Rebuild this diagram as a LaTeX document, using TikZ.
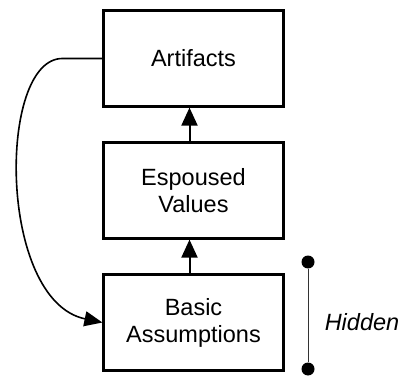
\documentclass[tikz,border=0pt]{standalone}
\usepackage{fontspec}
\setmainfont{Liberation Sans}
\usetikzlibrary{arrows.meta, positioning}

\begin{document}
\begin{tikzpicture}[x=1pt, y=1pt, node distance=132pt]
			\tikzstyle{layer}=[
			rectangle, draw=black, line width=2.2pt,
			minimum width=180pt, minimum height=96pt,
			font=\fontsize{23.5}{27}\selectfont, align=center
			]
			\tikzstyle{up}=[line width=2pt, -{Triangle[length=18pt,width=16pt]}]
			\tikzstyle{dot}=[circle, fill=black, inner sep=0pt, minimum size=13pt]
			
			\useasboundingbox (0,0) rectangle (402,-377);
			
			\node[layer] (art) at (193.5,-58.5) {Artifacts};
			\node[layer, below of=art] (esp) {Espoused\\Values};
			\node[layer, below of=esp] (basic) {Basic\\Assumptions};
			
			\draw[up] ([xshift=-4pt]esp.north) -- ([xshift=-4pt]art.south);
			\draw[up] ([xshift=-4pt]basic.north) -- ([xshift=-4pt]esp.south);
			\draw[line width=1.6pt, -{Triangle[length=18pt,width=15pt]}]
				(art.west) -- ++(-40,0) .. controls +(-65,0) and +(-105,22) .. (basic.west);
			
			\node[dot] (top) at (308,-262) {};
			\node[dot] (bot) at (308,-369) {};
			\draw[line width=0.9pt, black!80] (top) -- (bot);
			\node[font=\fontsize{23.5}{27}\selectfont\itshape] (hid) at (362,-322) {Hidden};
		\end{tikzpicture}
\end{document}
